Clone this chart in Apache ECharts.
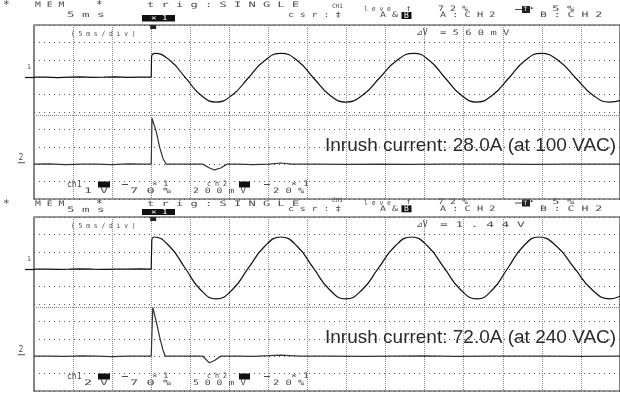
<!DOCTYPE html>
<html><head><meta charset="utf-8">
<script src="https://cdn.jsdelivr.net/npm/echarts@6/dist/echarts.min.js"></script>
<style>html,body{margin:0;padding:0;background:#fff}#c{width:620px;height:408px}</style>
</head><body><div id="c"></div>
<script>
// x = time in ms (5 ms/div, 15 div), y = screen divisions (0 = panel bottom, 10 = top)
const xMin = 0, xMax = 75, xStep = 5;
const yMin = 0, yMax = 10, yStep = 1;
const triggerMs = 15;
const splitLevel = 4.8;           // dense dotted separator line
const ch1Offset = 7, ch2Offset = 2; // channel marker levels

// ---- Panel 1 (100 VAC) ----
const p1Ch1Pre = [[0,7.0],[1.5,7.0],[3,6.98],[4.5,7.0],[6,7.02],[7.5,6.99],[9,7.0],[10.5,7.02],[12,6.99],[13.5,7.01],[15.0,7.0],[15.05,8.25]];
const p1Ch1Sine = [[15.05,8.25],[15.45,8.37],[17.41,7.96],[19.38,6.97],[21.34,5.98],[23.3,5.57],[25.38,5.98],[27.45,6.97],[29.53,7.96],[31.6,8.37],[33.68,7.96],[35.75,6.97],[37.83,5.98],[39.9,5.57],[42.08,5.98],[44.25,6.97],[46.43,7.96],[48.6,8.37],[50.6,7.96],[52.6,6.97],[54.65,5.98],[56.65,5.57],[58.7,5.98],[60.8,6.97],[62.85,7.96],[64.9,8.37],[67.1,7.96],[69.3,6.97],[71.5,5.98],[73.7,5.57],[75,5.65]];
const p1Ch2 = [[0,2.0],[2,2.02],[4,1.98],[6,2.0],[8,2.01],[10,1.98],[12,2.02],[14,2.0],[15.0,2.0],[15.1,4.64],[15.2,4.6],[15.65,3.87],[16.07,3.0],[16.5,2.33],[16.93,2.0],[18,2.0],[20,2.01],[21.6,2.0],[22.4,1.8],[23.1,1.67],[23.9,1.78],[24.7,2.0],[26,2.0],[28,1.98],[30,2.0],[31.6,2.07],[33,2.0],[36,2.0],[40,1.99],[44,2.01],[48,1.99],[52,2.0],[56,2.0],[60,2.01],[64,1.99],[68,2.0],[72,2.0],[75,2.0]];

// ---- Panel 2 (240 VAC) ----
const p2Ch1Pre = [[0,7.0],[1.5,7.01],[3,6.99],[4.5,7.0],[6,7.02],[7.5,7.0],[9,6.99],[10.5,7.01],[12,7.0],[13.5,7.02],[15.0,7.0],[15.08,8.7]];
const p2Ch1Sine = [[15.08,8.7],[15.35,8.85],[17.34,8.32],[19.33,7.07],[21.31,5.82],[23.3,5.3],[25.38,5.82],[27.45,7.07],[29.53,8.32],[31.6,8.85],[33.68,8.32],[35.75,7.07],[37.83,5.82],[39.9,5.3],[42.0,5.82],[44.1,7.07],[46.2,8.32],[48.3,8.85],[50.4,8.32],[52.5,7.07],[54.6,5.82],[56.7,5.3],[58.68,5.82],[60.65,7.07],[62.63,8.32],[64.6,8.85],[66.88,8.32],[69.15,7.07],[71.43,5.82],[73.7,5.3],[75,5.45]];
const p2Ch2 = [[0,2.0],[2,2.01],[4,1.99],[6,2.02],[8,2.0],[10,1.98],[12,2.01],[14,2.0],[15.0,2.0],[15.2,4.8],[15.3,4.75],[15.65,3.98],[16.07,3.12],[16.5,2.36],[16.8,2.01],[18,2.0],[20,2.0],[21.6,2.0],[22.45,1.62],[23.1,1.75],[23.9,2.0],[26,2.01],[28,1.99],[31.6,2.06],[34,2.0],[38,2.01],[42,1.99],[46,2.0],[50,2.02],[54,1.99],[58,2.0],[62,2.01],[66,2.0],[70,1.99],[75,2.0]];

// ---- Texts ----
const inrushTexts = ['Inrush current: 28.0A (at 100 VAC)', 'Inrush current: 72.0A (at 240 VAC)'];
const dvTexts = ['=560mV', '=1.44V'];
const ch1Scales = ['1V', '2V'];
const ch2Scales = ['200mV', '500mV'];

const ink = '#4a4a4a';
const MONO = '"DejaVu Sans Mono", "DejaVu Sans", monospace';
const panels = [
  {top:25, height:174, r1:5.5, r2:15.5, ch1y:6, levey:9.5, p72y:9, aby:15.5, boxT:15, boxB:21.5},
  {top:217, height:174, r1:204, r2:210.5, ch1y:200, levey:202.8, p72y:202.5, aby:208.8, boxT:209, boxB:215}
];

const chart = echarts.init(document.getElementById('c'));
const ch1Sets = [[p1Ch1Pre, p1Ch1Sine],[p2Ch1Pre, p2Ch1Sine]];
const ch2Sets = [p1Ch2, p2Ch2];
const series = [];
[0,1].forEach(i => {
  series.push({type:'line', xAxisIndex:i, yAxisIndex:i, data:ch1Sets[i][0], showSymbol:false, silent:true,
    lineStyle:{color:'#111', width:1.2}});
  series.push({type:'line', xAxisIndex:i, yAxisIndex:i, data:ch1Sets[i][1], showSymbol:false, silent:true, smooth:0.5,
    lineStyle:{color:'#111', width:1.2}});
  series.push({type:'line', xAxisIndex:i, yAxisIndex:i, data:ch2Sets[i], showSymbol:false, silent:true,
    lineStyle:{color:'#333', width:1.2},
    markLine:{silent:true, symbol:['none','none'], label:{show:false},
      lineStyle:{type:[1,1], color:'#888', width:1}, data:[{yAxis:splitLevel}]}});
});

chart.setOption({
  animation:false,
  backgroundColor:'#fff',
  grid: panels.map(p => ({left:34, top:p.top, width:588, height:p.height, show:true,
    borderColor:'#333', borderWidth:1.2, backgroundColor:'transparent'})),
  xAxis: [0,1].map(i => ({type:'value', gridIndex:i, min:xMin, max:xMax, interval:xStep,
    axisLine:{show:false}, axisTick:{show:false}, axisLabel:{show:false},
    splitLine:{show:true, lineStyle:{type:[1,1], color:'#8c8c8c', width:1}}})),
  yAxis: [0,1].map(i => ({type:'value', gridIndex:i, min:yMin, max:yMax, interval:yStep,
    axisLine:{show:false}, axisTick:{show:false}, axisLabel:{show:false},
    splitLine:{show:true, lineStyle:{type:[1,4], color:'#555', width:1}}})),
  series: series
});

function sp(str, x, y, pitch, size, fill) {
  const s = str.split('').join(' ');
  const adv = 0.602 * size * 2;
  return {type:'text', x:x, y:y, scaleX: pitch/adv, silent:true, z:10,
    style:{text:s, font: size+'px '+MONO, fill: fill||ink, textAlign:'left', textVerticalAlign:'middle'}};
}
function tx(str, x, y, size, fill, family) {
  return {type:'text', x:x, y:y, silent:true, z:10,
    style:{text:str, font: size+'px '+(family||MONO), fill: fill||ink, textAlign:'left', textVerticalAlign:'middle'}};
}
function rect(x, y, w, h, fill) {
  return {type:'rect', silent:true, z:9, shape:{x:x, y:y, width:w, height:h}, style:{fill: fill||'#111'}};
}
function hline(x1, x2, y, color, w) {
  return {type:'line', silent:true, z:9, shape:{x1:x1, y1:y, x2:x2, y2:y}, style:{stroke: color||ink, lineWidth: w||1}};
}

const g = [];
panels.forEach((p, i) => {
  const T = p.top, B = p.top + p.height;
  // header row 1
  g.push(tx('*', 3, p.r1, 11));
  g.push(sp('MEM', 35, p.r1, 11.7, 7.5));
  g.push(tx('*', 96, p.r1, 11));
  g.push(sp('trig:SINGLE', 147, p.r1, 14.5, 7.5));
  g.push(tx('CH1', 332, p.ch1y, 6));
  g.push(sp('leve', 364, p.levey, 7.7, 7));
  g.push(tx('↑', 406, p.levey - 1, 9));
  g.push(hline(403, 408, p.levey + 3.5));
  g.push(sp('72%', 438, p.p72y, 12, 7.5));
  g.push(hline(515, 522, p.p72y + 0.5));
  g.push(rect(522, p.p72y - 3, 8, 7, '#222'));
  g.push(tx('T', 523.5, p.p72y + 0.5, 6, '#fff'));
  g.push(tx('▸', 530, p.p72y - 1, 7));
  g.push(sp('5%', 552, p.p72y, 15, 7.5));
  // header row 2
  g.push(sp('5ms', 67, p.r2, 15, 7.5));
  g.push(rect(142, p.boxT, 33, p.boxB - p.boxT, '#111'));
  g.push(sp('×1', 151, (p.boxT + p.boxB) / 2, 11, 7, '#fff'));
  g.push(sp('csr:‡', 288, p.aby, 11.8, 7.5));
  g.push(sp('A&', 380, p.aby, 12, 7.5));
  g.push(rect(401.5, p.aby - 3.5, 10, 7, '#111'));
  g.push(tx('B', 404, p.aby, 8, '#fff'));
  g.push(sp('A:CH2', 440, p.aby, 12.3, 7.5));
  g.push(sp('B:CH2', 540, p.aby, 13.8, 7.5));
  // inside box top
  g.push(sp('(5ms/div)', 71, T + 9, 7.6, 7));
  g.push(tx('⊿V', 416, T + 8, 8));
  g.push(sp(dvTexts[i], 440, T + 8, i === 0 ? 12.6 : 15.4, 7.5));
  // inside box bottom
  const ra = B - 14.5, rb = B - 7.5;
  g.push(tx('ch1', 67, ra, 8));
  g.push(rect(98, ra - 3, 12, 6, '#111'));
  g.push(hline(122, 128, ra));
  g.push(sp('×1', 152, ra, 11, 7.5));
  g.push(sp('ch2', 207, ra, 8, 7.5));
  g.push(rect(239, ra - 3, 11, 6, '#111'));
  g.push(hline(264, 270, ra));
  g.push(sp('×1', 291, ra, 12, 7.5));
  g.push(sp(ch1Scales[i], 84, rb, 16, 7.5));
  g.push(sp('70%', 130, rb, 16.5, 7.5));
  g.push(sp(ch2Scales[i], 193, rb, 11.8, 7.5));
  g.push(sp('20%', 273, rb, 12.5, 7.5));
  // channel markers and trigger marker placed through the axes
  const c1 = chart.convertToPixel({gridIndex:i}, [xMin, ch1Offset]);
  const c2 = chart.convertToPixel({gridIndex:i}, [xMin, ch2Offset]);
  const tr = chart.convertToPixel({gridIndex:i}, [triggerMs, yMax]);
  g.push(hline(25, c1[0], Math.round(c1[1]) + 0.5, '#111', 1.2));
  g.push(tx('1', 27, c1[1] - 10, 6.5));
  g.push(tx('2', 18.5, c2[1] - 6, 8));
  g.push(hline(18, 25, c2[1] - 1.5, ink, 1));
  g.push(rect(tr[0] - 1, tr[1], 6, 4, '#222'));
  // annotation
  g.push({type:'text', x:325, y:T + 121, silent:true, z:10,
    style:{text:inrushTexts[i], font:'19px "Liberation Sans", Arial, sans-serif', fill:'#2b2b2b', textAlign:'left', textVerticalAlign:'middle'}});
});
chart.setOption({graphic: g});
</script></body></html>
